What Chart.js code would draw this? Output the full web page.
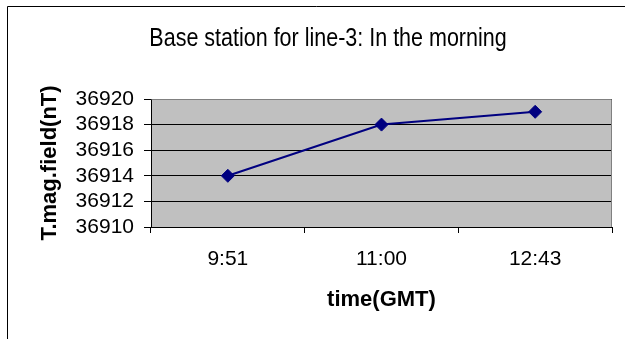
<!DOCTYPE html>
<html>
<head>
<meta charset="utf-8">
<script src="https://cdn.jsdelivr.net/npm/chart.js@4/dist/chart.umd.min.js"></script>
<style>
  html, body { margin: 0; padding: 0; background: #fff; }
  #wrap { width: 625px; height: 339px; position: relative; }
</style>
</head>
<body>
<div id="wrap"><canvas id="c"></canvas></div>
<script>
// Base station readings
const chartTitle = 'Base station for line-3: In the morning';
const timeLabels = ['9:51', '11:00', '12:43'];
const fieldValues = [36914, 36918, 36919];
const yMin = 36910;
const yMax = 36920;
const yStep = 2;
const xAxisTitle = 'time(GMT)';
const yAxisTitle = 'T.mag.field(nT)';

const FONT = "'Liberation Sans', Arial, Helvetica, sans-serif";

// Grey plot background, thin outer frame and the condensed chart title
const chartDecor = {
  id: 'chartDecor',
  beforeDraw(chart) {
    const { ctx, chartArea: a } = chart;
    ctx.save();
    ctx.fillStyle = '#c0c0c0';
    ctx.fillRect(a.left, a.top, a.right - a.left, a.bottom - a.top);
    ctx.strokeStyle = '#000';
    ctx.lineWidth = 1;
    ctx.beginPath();
    ctx.moveTo(7.5, chart.height);
    ctx.lineTo(7.5, 6.5);
    ctx.lineTo(chart.width, 6.5);
    ctx.stroke();
    ctx.restore();
  },
  beforeDatasetsDraw(chart) {
    const { ctx, chartArea: a } = chart;
    ctx.save();
    ctx.strokeStyle = '#808080';
    ctx.lineWidth = 1;
    ctx.beginPath();
    ctx.moveTo(Math.round(a.left) + 0.5, Math.round(a.top) + 0.5);
    ctx.lineTo(Math.round(a.right) - 0.5, Math.round(a.top) + 0.5);
    ctx.lineTo(Math.round(a.right) - 0.5, Math.round(a.bottom));
    ctx.stroke();
    ctx.restore();
  },
  afterDraw(chart) {
    const { ctx } = chart;
    ctx.save();
    ctx.fillStyle = '#000';
    ctx.font = '25px ' + FONT;
    ctx.textAlign = 'center';
    ctx.textBaseline = 'alphabetic';
    ctx.translate(328, 46);
    ctx.scale(0.86, 1);
    ctx.fillText(chartTitle, 0, 0);
    ctx.restore();
  }
};

new Chart(document.getElementById('c'), {
  type: 'line',
  data: {
    labels: timeLabels,
    datasets: [{
      data: fieldValues,
      borderColor: '#000080',
      backgroundColor: '#000080',
      borderWidth: 2,
      pointStyle: 'rectRot',
      pointRadius: 6.5,
      pointBorderWidth: 1,
      pointBorderColor: '#000080',
      pointBackgroundColor: '#000080',
      tension: 0,
      fill: false
    }]
  },
  options: {
    responsive: true,
    maintainAspectRatio: false,
    animation: false,
    layout: { padding: { left: 0, top: 99, right: 13, bottom: 0 } },
    plugins: {
      legend: { display: false },
      title: { display: false },
      tooltip: { enabled: false }
    },
    scales: {
      x: {
        type: 'category',
        offset: true,
        afterFit(scale) { scale.height = 112; },
        grid: {
          offset: true,
          drawOnChartArea: false,
          drawTicks: true,
          tickLength: 6,
          color: '#000',
          lineWidth: 1
        },
        border: { display: true, color: '#000', width: 1 },
        ticks: {
          color: '#000',
          font: { family: FONT, size: 21 },
          padding: 14,
          maxRotation: 0,
          autoSkip: false
        },
        title: {
          display: true,
          text: xAxisTitle,
          color: '#000',
          font: { family: FONT, size: 22, weight: 'bold' },
          padding: { top: 0, bottom: 26 }
        }
      },
      y: {
        min: yMin,
        max: yMax,
        afterFit(scale) { scale.width = 151; },
        grid: {
          color: '#000',
          lineWidth: 1,
          drawTicks: true,
          tickLength: 7
        },
        border: { display: true, color: '#000', width: 1 },
        ticks: {
          stepSize: yStep,
          autoSkip: false,
          color: '#000',
          font: { family: FONT, size: 21 },
          padding: 10,
          callback: (v) => String(v)
        },
        title: {
          display: true,
          text: yAxisTitle,
          color: '#000',
          font: { family: FONT, size: 22, weight: 'bold' },
          padding: { top: 37, bottom: 0 }
        }
      }
    }
  },
  plugins: [chartDecor]
});
</script>
</body>
</html>
